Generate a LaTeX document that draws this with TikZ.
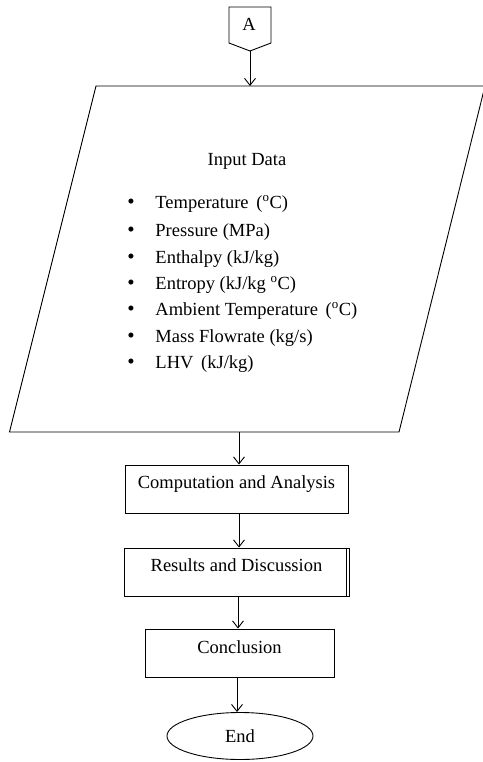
\documentclass[tikz,border=0pt]{standalone}
\usepackage{fontspec}
\setmainfont{Liberation Serif}
\usetikzlibrary{arrows.meta,shapes.geometric}
\begin{document}
\begin{tikzpicture}[x=1pt,y=-1pt,line width=0.9pt,
  arr/.style={-{Straight Barb[length=7pt,width=11pt]}},
  boxshape/.style={draw,rectangle,inner sep=0pt},
  txt/.style={font=\fontsize{18.5}{21}\selectfont,inner sep=0pt,anchor=base},
  item/.style={font=\fontsize{18.5}{21}\selectfont,inner sep=0pt,anchor=base west},
  bul/.style={font=\fontsize{21}{24}\selectfont,inner sep=0pt,anchor=base}]
\useasboundingbox (0,0) rectangle (482,762);

% off-page connector A
\draw (229,7) -- (271,7) -- (271,43) -- (250,51) -- (229,43) -- cycle;
\coordinate (Abot) at (250,51);
\node[txt] (Alab) at (249,31) {A};

% input parallelogram
\draw (96,86) -- (485,86) -- (399,432) -- (9.5,432) -- cycle;
\coordinate (ptop) at (250,86);
\coordinate (pbot) at (239,432);
\node[txt] (title) at (247,166) {Input Data};
\foreach \y/\t [count=\i] in {208/{Temperature\, (\textsuperscript{o}C)},
  236/{Pressure (MPa)},
  263/{Enthalpy (kJ/kg)},
  289/{Entropy (kJ/kg \textsuperscript{o}C)},
  315/{Ambient Temperature\, (\textsuperscript{o}C)},
  342/{Mass Flowrate (kg/s)},
  368/{LHV\, (kJ/kg)}}{
  \node[bul] (b\i) at (131,\y) {\textbullet};
  \node[item] (it\i) at (155,\y) {\t};
}

% boxes
\node[boxshape,minimum width=223pt,minimum height=48pt] (comp) at (236.5,489) {};
\node[txt] (compt) at (236.5,488) {Computation and Analysis};

\node[boxshape,minimum width=225pt,minimum height=48pt] (res) at (236.5,572) {};
\draw ([xshift=-3pt]res.north east) -- ([xshift=-3pt]res.south east);
\node[txt] (rest) at (236.5,571) {Results and Discussion};

\node[boxshape,minimum width=189pt,minimum height=48pt] (conc) at (239.5,653) {};
\node[txt] (conct) at (239.5,653) {Conclusion};

\node[draw,ellipse,minimum width=146pt,minimum height=47pt,inner sep=0pt] (endn) at (240,736) {};
\node[txt] (endt) at (240,742) {End};

% connectors
\coordinate (x1) at (239,0);
\coordinate (x2) at (238,0);
\coordinate (x3) at (237,0);
\draw[arr] (Abot) -- (ptop);
\draw[arr] (pbot) -- (comp.north -| x1);
\draw[arr] (comp.south -| x1) -- (res.north -| x1);
\draw[arr] (res.south -| x2) -- (conc.north -| x2);
\draw[arr] (conc.south -| x3) -- (endn.north -| x3);
\end{tikzpicture}
\end{document}
